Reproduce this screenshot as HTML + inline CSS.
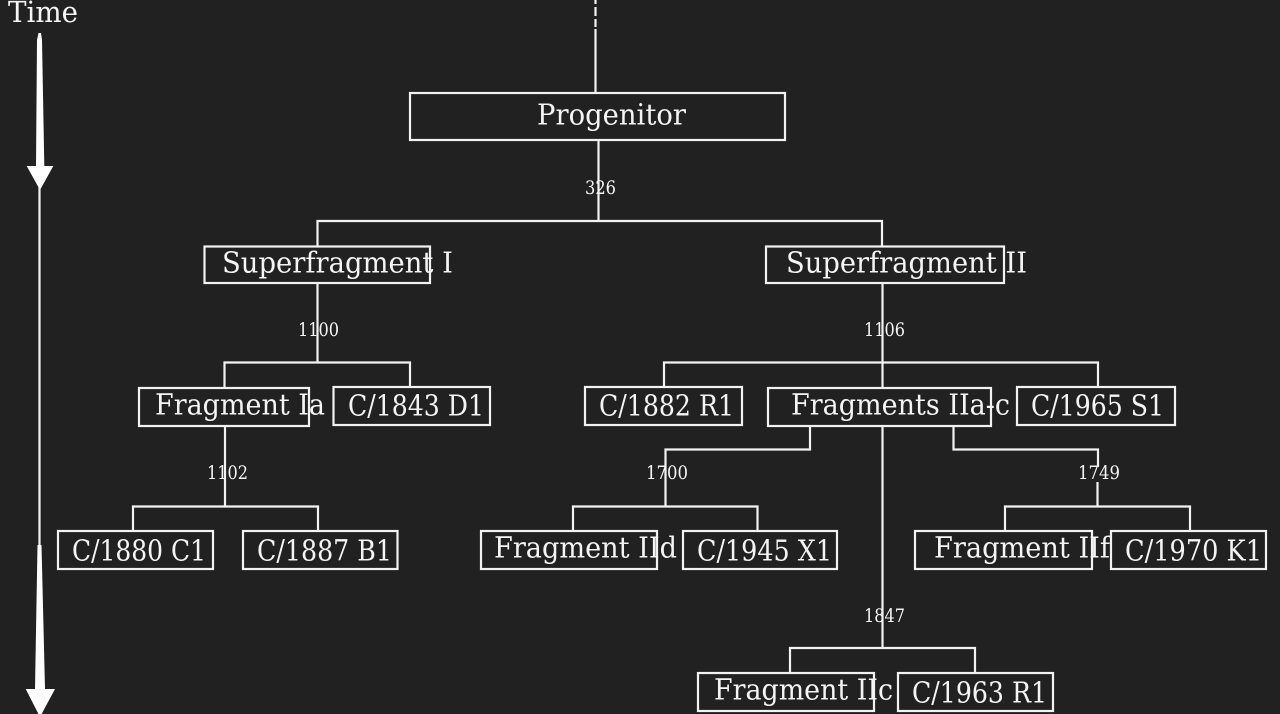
<!DOCTYPE html>
<html lang="en">
<head>
<meta charset="utf-8">
<title>Comet fragmentation tree</title>
<style>
html,body{margin:0;padding:0;background:#212121;width:1280px;height:714px;overflow:hidden}
svg{display:block}
.l{stroke:#f2f2f2;stroke-width:2.2;fill:none}
.b{stroke:#f2f2f2;stroke-width:2.2;fill:#212121}
text{font-family:"DejaVu Serif","Liberation Serif",serif;fill:#f4f4f4}
.t{font-size:29px}
.s{font-size:18.500px}
</style>
</head>
<body>
<svg width="1280" height="714" viewBox="0 0 1280 714" xmlns="http://www.w3.org/2000/svg">
<rect width="1280" height="714" fill="#212121"/>

<path class="l" d="M595.500 0V4M595.500 7V16M595.500 19V27"/>
<path class="l" d="M595.500 29V93"/>
<path class="l" d="M598.500 140V221M317.500 246V221H882V246"/>
<path class="l" d="M317.500 283V362.500M224.500 388V362.500H410V388"/>
<path class="l" d="M225 426V506.500M133 531V506.500H318V531"/>
<path class="l" d="M882.500 283V388M664 387V362.500H1098V387"/>
<path class="l" d="M882.500 426V648M790 673V648H975V673"/>
<path class="l" d="M810 426V449.500H665.500V506.500M573 531V506.500H757.500V531"/>
<path class="l" d="M953.500 426V449.500H1098V467M1097.500 482V506.500M1005 531V506.500H1190V531"/>

<path class="l" d="M39.500 186V550"/>
<polygon fill="#ffffff" points="38.500,33 41,33 42,40 44.300,166 53.300,166 40,190 26.700,166 36,166 37,40"/>
<polygon fill="#ffffff" points="37.500,545 41.500,545 45,689 55,689 40,717 25.700,689 35,689"/>

<rect class="b" x="410" y="93" width="375" height="47"/>
<rect class="b" x="204.500" y="246.500" width="225.500" height="36.500"/>
<rect class="b" x="766" y="246.500" width="238" height="36.500"/>
<rect class="b" x="139" y="388" width="170" height="38"/>
<rect class="b" x="333.500" y="387" width="156.500" height="38"/>
<rect class="b" x="585" y="387" width="157" height="38"/>
<rect class="b" x="768" y="388" width="223" height="38"/>
<rect class="b" x="1017" y="387" width="158" height="38"/>
<rect class="b" x="58" y="531" width="155" height="38"/>
<rect class="b" x="243" y="531" width="154.500" height="38"/>
<rect class="b" x="481" y="531" width="176" height="38"/>
<rect class="b" x="683" y="531" width="154" height="38"/>
<rect class="b" x="915" y="531" width="177" height="38"/>
<rect class="b" x="1111" y="531" width="155" height="38"/>
<rect class="b" x="698" y="673" width="176" height="38"/>
<rect class="b" x="898" y="673" width="155" height="38"/>

<text class="t" x="8" y="22" textLength="70" lengthAdjust="spacingAndGlyphs">Time</text>
<text class="t" x="537" y="124.500" textLength="149" lengthAdjust="spacingAndGlyphs">Progenitor</text>
<text class="t" x="222" y="272.500" textLength="231" lengthAdjust="spacingAndGlyphs">Superfragment I</text>
<text class="t" x="786" y="272.500" textLength="241" lengthAdjust="spacingAndGlyphs">Superfragment II</text>
<text class="t" x="155" y="414.500" textLength="170" lengthAdjust="spacingAndGlyphs">Fragment Ia</text>
<text class="t" x="348" y="415.500" textLength="136" lengthAdjust="spacingAndGlyphs">C/1843 D1</text>
<text class="t" x="599" y="415.500" textLength="135" lengthAdjust="spacingAndGlyphs">C/1882 R1</text>
<text class="t" x="791" y="414.500" textLength="219" lengthAdjust="spacingAndGlyphs">Fragments IIa-c</text>
<text class="t" x="1031" y="415.500" textLength="133" lengthAdjust="spacingAndGlyphs">C/1965 S1</text>
<text class="t" x="72" y="560.500" textLength="134" lengthAdjust="spacingAndGlyphs">C/1880 C1</text>
<text class="t" x="257" y="560.500" textLength="135" lengthAdjust="spacingAndGlyphs">C/1887 B1</text>
<text class="t" x="494" y="557.500" textLength="183" lengthAdjust="spacingAndGlyphs">Fragment IId</text>
<text class="t" x="697" y="560.500" textLength="135" lengthAdjust="spacingAndGlyphs">C/1945 X1</text>
<text class="t" x="934" y="557.500" textLength="176" lengthAdjust="spacingAndGlyphs">Fragment IIf</text>
<text class="t" x="1125" y="560.500" textLength="137" lengthAdjust="spacingAndGlyphs">C/1970 K1</text>
<text class="t" x="714" y="699.500" textLength="179" lengthAdjust="spacingAndGlyphs">Fragment IIc</text>
<text class="t" x="912" y="702.500" textLength="135" lengthAdjust="spacingAndGlyphs">C/1963 R1</text>

<text class="s" x="585" y="194" textLength="31" lengthAdjust="spacingAndGlyphs">326</text>
<text class="s" x="298" y="336" textLength="41" lengthAdjust="spacingAndGlyphs">1100</text>
<text class="s" x="864" y="336" textLength="41" lengthAdjust="spacingAndGlyphs">1106</text>
<text class="s" x="207" y="479" textLength="41" lengthAdjust="spacingAndGlyphs">1102</text>
<text class="s" x="646" y="479" textLength="42" lengthAdjust="spacingAndGlyphs">1700</text>
<text class="s" x="1078" y="479" textLength="42" lengthAdjust="spacingAndGlyphs">1749</text>
<text class="s" x="864" y="622" textLength="41" lengthAdjust="spacingAndGlyphs">1847</text>
</svg>
</body>
</html>
